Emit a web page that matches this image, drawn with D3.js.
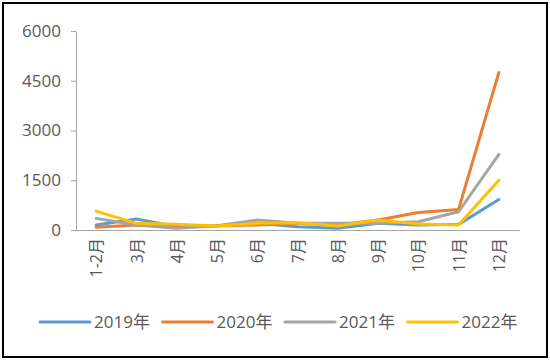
<!DOCTYPE html>
<html>
<head>
<meta charset="utf-8">
<script src="https://cdn.jsdelivr.net/npm/d3@7"></script>
<style>
  body { margin: 0; background: #fff; }
  text { font-family: "Open Sans", "Noto Sans CJK SC", sans-serif; fill: #595959; }
</style>
</head>
<body>
<div id="wrapper"></div>
<script>
const months = ["1-2月", "3月", "4月", "5月", "6月", "7月", "8月", "9月", "10月", "11月", "12月"];
const yTicks = [0, 1500, 3000, 4500, 6000];
const years = ["2019年", "2020年", "2021年", "2022年"];
const colors = ["#5B9BD5", "#ED7D31", "#A5A5A5", "#FFC000"];

const s2019 = [150, 330, 100, 130, 200, 100, 50, 200, 150, 170, 920];
const s2020 = [80, 150, 130, 120, 150, 200, 150, 300, 530, 620, 4750];
const s2021 = [350, 150, 50, 130, 300, 200, 200, 200, 250, 550, 2280];
const s2022 = [570, 200, 170, 120, 200, 220, 120, 300, 180, 150, 1500];
const allSeries = [s2019, s2020, s2021, s2022];

function drawChart() {
    const dimensions = {
        width: 550,
        height: 361,
        margin: { top: 31, right: 31, bottom: 131, left: 76 },
    }
    dimensions.boundedWidth = dimensions.width - dimensions.margin.left - dimensions.margin.right
    dimensions.boundedHeight = dimensions.height - dimensions.margin.top - dimensions.margin.bottom

    const wrapper = d3.select("#wrapper")
        .append("svg")
        .attr("width", dimensions.width)
        .attr("height", dimensions.height);

    // outer frame
    wrapper.append("rect")
        .attr("x", 3).attr("y", 3)
        .attr("width", 544).attr("height", 354)
        .attr("fill", "none")
        .attr("stroke", "#000")
        .attr("stroke-width", 2);

    const bounds = wrapper.append("g")
        .attr("transform", `translate(${dimensions.margin.left},${dimensions.margin.top})`);

    const xScaler = d3.scalePoint()
        .domain(months)
        .range([0, dimensions.boundedWidth])
        .padding(0.5);

    const yScaler = d3.scaleLinear()
        .domain([0, 6000])
        .range([dimensions.boundedHeight, 0]);

    // y axis
    const yAxis = bounds.append("g")
        .call(d3.axisLeft(yScaler).tickValues(yTicks).tickFormat(d3.format("d"))
            .tickSize(5).tickSizeOuter(0).tickPadding(10));
    yAxis.select(".domain").attr("stroke", "#a6a6a6");
    yAxis.selectAll(".tick line").attr("stroke", "#a6a6a6");
    yAxis.selectAll("text").style("font-size", "17px").attr("fill", "#595959");

    // x axis
    const xAxis = bounds.append("g")
        .attr("transform", `translate(0,${dimensions.boundedHeight})`)
        .call(d3.axisBottom(xScaler).tickSize(0).tickSizeOuter(0));
    xAxis.select(".domain").attr("stroke", "#a6a6a6");
    xAxis.selectAll("text")
        .style("font-size", "16px")
        .attr("fill", "#595959")
        .attr("transform", "rotate(-90)")
        .attr("text-anchor", "end")
        .attr("x", -8)
        .attr("y", 0)
        .attr("dy", "0.35em");

    const lineGen = d3.line()
        .x((d, i) => xScaler(months[i]))
        .y(d => yScaler(d));

    allSeries.forEach((s, k) => {
        bounds.append("path")
            .datum(s)
            .attr("d", lineGen)
            .attr("fill", "none")
            .attr("stroke", colors[k])
            .attr("stroke-width", 3)
            .attr("stroke-linejoin", "round")
            .attr("stroke-linecap", "round");
    });

    // legend
    const legend = wrapper.append("g").attr("transform", "translate(40,322)");
    const item = legend.selectAll("g")
        .data(years)
        .enter()
        .append("g")
        .attr("transform", (d, i) => `translate(${i * 122.5},0)`);
    item.append("line")
        .attr("x1", 0).attr("x2", 50)
        .attr("stroke", (d, i) => colors[i])
        .attr("stroke-width", 3)
        .attr("stroke-linecap", "round");
    item.append("text")
        .attr("x", 54)
        .attr("dy", "0.35em")
        .style("font-size", "17px")
        .text(d => d);
}

drawChart();
</script>
</body>
</html>
